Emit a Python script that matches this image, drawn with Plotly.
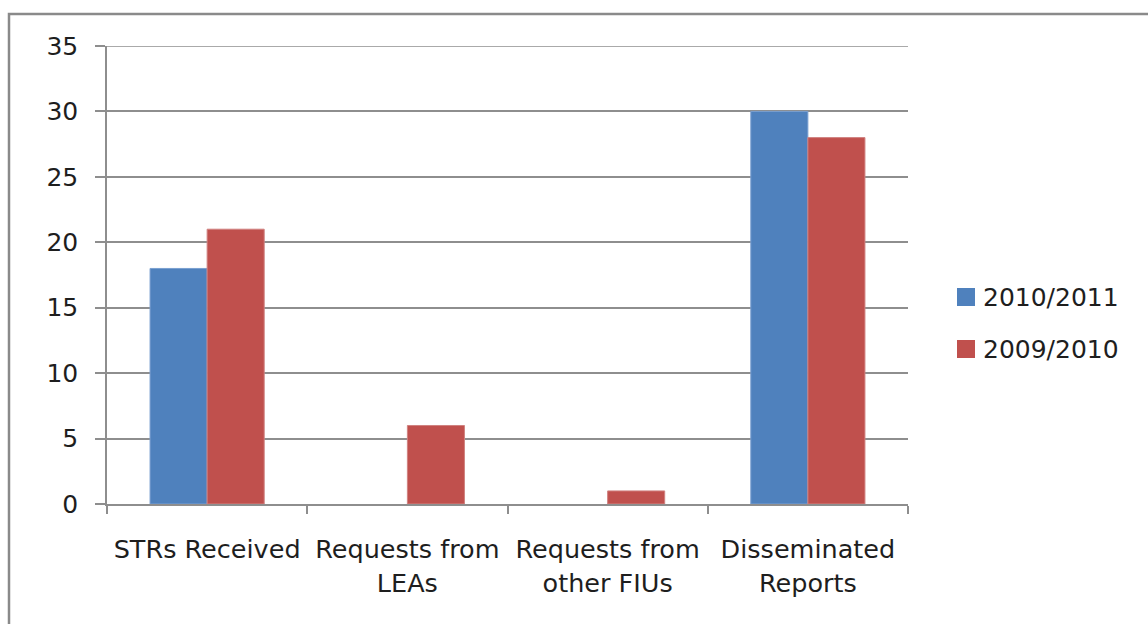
import plotly.graph_objects as go

categories = ["STRs Received", "Requests from<br>LEAs", "Requests from<br>other FIUs", "Disseminated<br>Reports"]
series_names = ["2010/2011", "2009/2010"]
series_2010_2011 = [18, 0, 0, 30]
series_2009_2010 = [21, 6, 1, 28]
y_ticks = [0, 5, 10, 15, 20, 25, 30, 35]

BLUE = "#4F81BD"
RED = "#C0504D"
GRID = "#8E8E8E"
FONT = "DejaVu Sans"
TEXT = "#1E1E1E"

# plot area in pixels (used to place the frame and the legend in paper units)
PLOT_L, PLOT_R, PLOT_T, PLOT_B = 107, 908, 46, 504


def px_x(px):
    return (px - PLOT_L) / (PLOT_R - PLOT_L)


def px_y(py):
    return (PLOT_B - py) / (PLOT_B - PLOT_T)


def edge_widths(values):
    # no outline on empty bars, so nothing is drawn at zero
    return [1 if v > 0 else 0 for v in values]


fig = go.Figure()
fig.add_trace(go.Bar(
    name=series_names[0], x=categories, y=series_2010_2011,
    marker=dict(color=BLUE, line=dict(color="#7A9FD0", width=edge_widths(series_2010_2011))),
))
fig.add_trace(go.Bar(
    name=series_names[1], x=categories, y=series_2009_2010,
    marker=dict(color=RED, line=dict(color="#D08280", width=edge_widths(series_2009_2010))),
))

shapes = [
    # chart frame
    dict(
        type="rect", xref="paper", yref="paper",
        x0=px_x(9), x1=1.5, y0=-0.5, y1=px_y(14),
        line=dict(color="#8A8A8A", width=2.5), fillcolor="rgba(0,0,0,0)", layer="below",
    ),
    # top gridline at the axis maximum
    dict(
        type="line", xref="paper", yref="y", x0=0, x1=1, y0=35, y1=35,
        line=dict(color=GRID, width=1.5), layer="below",
    ),
]
annotations = []

# legend: coloured square + series name
for i, (name, color) in enumerate(zip(series_names, [BLUE, RED])):
    cy = 297 + i * 52
    shapes.append(dict(
        type="rect", xref="paper", yref="paper",
        x0=px_x(957), x1=px_x(975), y0=px_y(cy + 9), y1=px_y(cy - 9),
        line=dict(width=0), fillcolor=color,
    ))
    annotations.append(dict(
        xref="paper", yref="paper", x=px_x(981), y=px_y(cy),
        xanchor="left", yanchor="middle", showarrow=False,
        text=name, font=dict(family=FONT, size=25, color=TEXT),
    ))

fig.update_layout(
    width=1148, height=624,
    margin=dict(l=PLOT_L, r=1148 - PLOT_R, t=PLOT_T, b=624 - PLOT_B),
    paper_bgcolor="white", plot_bgcolor="white",
    barmode="group", bargap=0.43, bargroupgap=0,
    font=dict(family=FONT, size=25, color=TEXT),
    showlegend=False,
    xaxis=dict(
        showline=True, linecolor=GRID, linewidth=1.5,
        ticks="outside", tickson="boundaries", ticklen=8, tickcolor=GRID, tickwidth=1.5,
        showgrid=False, ticklabelstandoff=22,
        tickfont=dict(family=FONT, size=25.5, color=TEXT),
    ),
    yaxis=dict(
        range=[0, 35], tickvals=y_ticks,
        showline=True, linecolor=GRID, linewidth=1.5,
        ticks="outside", ticklen=10, tickcolor=GRID, tickwidth=1.5,
        showgrid=True, gridcolor=GRID, gridwidth=1.5,
        zeroline=False, ticklabelstandoff=12,
    ),
    shapes=shapes,
    annotations=annotations,
)

fig.write_html("out.html")
